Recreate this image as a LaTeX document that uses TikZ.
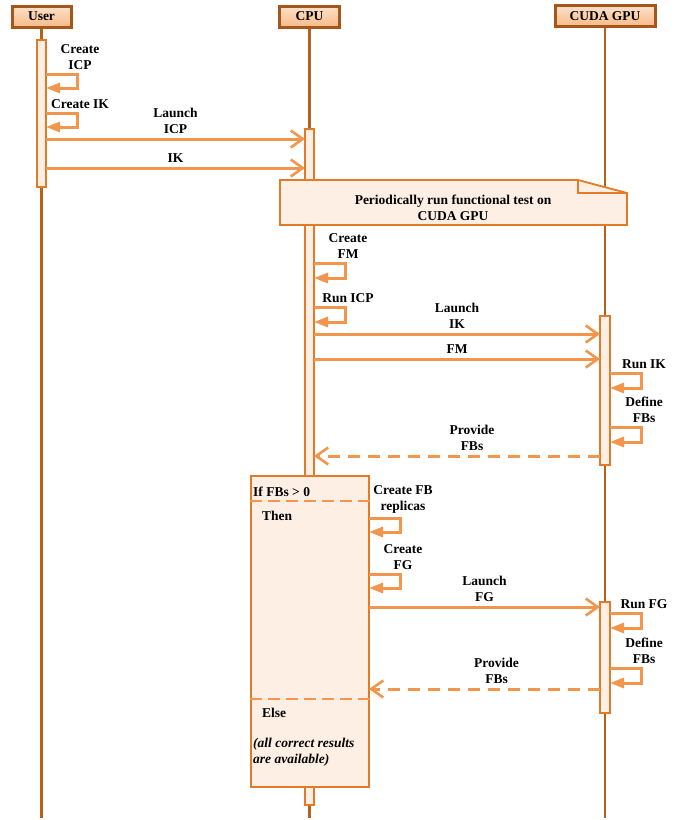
\documentclass[tikz,border=0pt]{standalone}
\usepackage{fontspec}
\setmainfont{Liberation Serif}
\usetikzlibrary{arrows.meta}

\definecolor{lifebrown}{RGB}{181,96,27}
\definecolor{msgorange}{RGB}{241,150,76}
\definecolor{barfill}{RGB}{253,239,227}
\definecolor{bardraw}{RGB}{226,122,40}
\definecolor{headdraw}{RGB}{166,86,26}
\definecolor{headtop}{RGB}{253,226,204}
\definecolor{headbot}{RGB}{247,186,134}

\tikzset{
  lbl/.style={font=\fontsize{13.5}{16}\selectfont\bfseries, align=center, inner sep=1pt},
  headbox/.style={draw=headdraw, line width=3pt, top color=headtop, bottom color=headbot,
    minimum height=21pt, inner sep=0pt, font=\fontsize{13.5}{15}\selectfont\bfseries},
  lifeline/.style={draw=lifebrown, line width=2.8pt},
  actbar/.style={draw=bardraw, fill=barfill, line width=1.8pt, minimum width=9pt, inner sep=0pt},
  msg/.style={draw=msgorange, line width=3pt, -{Straight Barb[length=12pt,width=17pt,line width=2.6pt]}},
  reply/.style={msg, dash pattern=on 12pt off 8pt},
  selfmsg/.style={draw=msgorange, line width=3pt, -{Triangle[length=14pt,width=10pt]}},
  sep/.style={draw=msgorange, line width=2pt, dash pattern=on 12pt off 6pt},
}

% self message: start coordinate, top y, bottom y, label
\newcommand{\selfcall}[5]{%
  \coordinate (#1a) at (#2,#3);
  \coordinate (#1b) at (#2,#4);
  \draw[selfmsg] (#1a) -- ++(31,0) |- (#1b);
  \node[lbl, anchor=south] (#1t) at ([xshift=34pt,yshift=-3pt]#1a) {#5};
}

\begin{document}
\begin{tikzpicture}[x=1pt,y=1pt,yscale=-1]
\useasboundingbox (0,0) rectangle (692,820);

% heads of the lifelines
\node[headbox, minimum width=59pt] (user) at (41.5,16.5) {User};
\node[headbox, minimum width=60pt] (cpu) at (309.5,16.5) {CPU};
\node[headbox, minimum width=100pt] (gpu) at (605,16) {CUDA GPU};

\coordinate (userend) at (41.5,818);
\coordinate (cpuend) at (309.5,818);
\coordinate (gpuend) at (605,818);
\draw[lifeline] (user.south) -- (userend);
\draw[lifeline] (cpu.south) -- (cpuend);
\draw[lifeline] (gpu.south) -- (gpuend);

% activation bars
\node[actbar, minimum height=147pt] (ubar) at (41.5,113.5) {};
\node[actbar, minimum height=676pt] (cbar) at (309.5,467) {};
\node[actbar, minimum width=10pt, minimum height=149pt] (gbarA) at (605,390.5) {};
\node[actbar, minimum width=10pt, minimum height=111pt] (gbarB) at (605,657.5) {};

% User
\selfcall{uicp}{46}{74}{88}{Create\\ICP}
\selfcall{uik}{46}{113}{127}{Create IK}

\coordinate (ms1) at (46,139);  \coordinate (me1) at (305,139);
\coordinate (ms2) at (46,168);  \coordinate (me2) at (305,168);
\draw[msg] (ms1) -- node[lbl, above=3pt] (launchicp) {Launch\\ICP} (me1);
\draw[msg] (ms2) -- node[lbl, above=3pt] (ik) {IK} (me2);

% note
\draw[draw=bardraw, fill=barfill, line width=1.8pt] (280,180) -- (578,180) -- (627,193) -- (627,225) -- (280,225) -- cycle;
\draw[draw=bardraw, line width=1.8pt] (578,180) -- (578,193) -- (627,193);
\node[lbl] (note) at (453,208) {Periodically run functional test on\\CUDA GPU};

% CPU
\selfcall{cfm}{314}{263}{278}{Create\\FM}
\selfcall{cicp}{314}{307}{322}{Run ICP}

\coordinate (ms3) at (314,334);  \coordinate (me3) at (600,334);
\coordinate (ms4) at (314,359);  \coordinate (me4) at (600,359);
\draw[msg] (ms3) -- node[lbl, above=3pt] (launchik) {Launch\\IK} (me3);
\draw[msg] (ms4) -- node[lbl, above=3pt] (fm) {FM} (me4);

% GPU
\selfcall{gik}{610}{373}{388}{Run IK}
\selfcall{gfb}{610}{427}{442}{Define\\FBs}

\coordinate (rs1) at (600,456);  \coordinate (re1) at (314,456);
\draw[reply] (rs1) -- node[lbl, above=3pt, xshift=15pt] (provA) {Provide\\FBs} (re1);

% alternative frame
\node[draw=bardraw, fill=barfill, line width=1.8pt, minimum width=118pt, minimum height=311pt, inner sep=0pt] (alt) at (310,631.5) {};
\draw[sep] (alt.west |- 0,501) -- (alt.east |- 0,501);
\draw[sep] (alt.west |- 0,699) -- (alt.east |- 0,699);
\node[lbl, anchor=west] (cond) at (252,492) {If FBs > 0};
\node[lbl, anchor=west] (then) at (261,516) {Then};
\node[lbl, anchor=west] (else) at (261,713) {Else};
\node[lbl, anchor=north west, align=left, font=\fontsize{13.5}{16}\selectfont\bfseries\itshape] (avail) at (252,737) {(all correct results\\are available)};

\selfcall{crep}{369}{518}{532}{Create FB\\replicas}
\selfcall{cfg}{369}{574}{588}{Create\\FG}

\coordinate (ms5) at (369,607);  \coordinate (me5) at (600,607);
\draw[msg] (ms5) -- node[lbl, above=3pt] (launchfg) {Launch\\FG} (me5);

\selfcall{gfg}{610}{613}{628}{Run FG}
\selfcall{gfb2}{610}{668}{683}{Define\\FBs}

\coordinate (rs2) at (600,689);  \coordinate (re2) at (369,689);
\draw[reply] (rs2) -- node[lbl, above=3pt, xshift=12pt] (provB) {Provide\\FBs} (re2);

\end{tikzpicture}
\end{document}
